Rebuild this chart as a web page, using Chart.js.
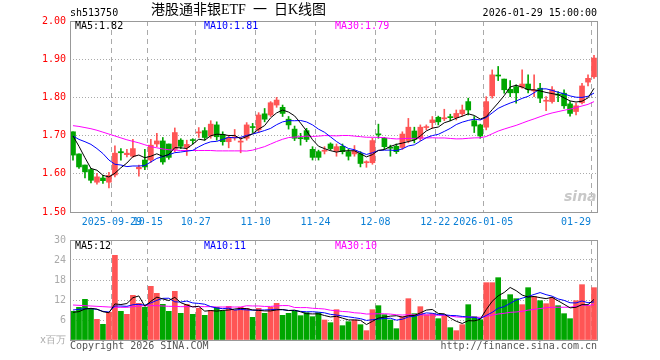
<!DOCTYPE html>
<html><head><meta charset="utf-8">
<script src="https://cdn.jsdelivr.net/npm/chart.js@4.4.1/dist/chart.umd.min.js"></script>
<style>
html,body{margin:0;padding:0;background:#fff;}
#wrap{position:relative;width:660px;height:360px;overflow:hidden;font-family:"DejaVu Sans Mono",monospace;}
canvas{position:absolute;left:0;}
.t{position:absolute;white-space:nowrap;font-size:10px;line-height:10px;}
</style></head><body>
<div id="wrap">
<canvas id="k" width="660" height="230" style="top:0"></canvas>
<canvas id="v" width="660" height="130" style="top:230px"></canvas>
<div class="t" style="left:70px;top:8px;color:#000">sh513750</div>
<div class="t" style="left:151px;top:3px;font-size:14px;line-height:14px;font-family:'Liberation Serif','Noto Sans CJK SC',serif;color:#000">港股通非银ETF&nbsp;&nbsp;一&nbsp;&nbsp;日K线图</div>
<div class="t" style="right:63px;top:8px;color:#000">2026-01-29 15:00:00</div>
<div class="t" style="left:75px;top:21px;color:#000">MA5:1.82</div>
<div class="t" style="left:204px;top:21px;color:#0000ff">MA10:1.81</div>
<div class="t" style="left:335px;top:21px;color:#ff00ff">MA30:1.79</div>
<div class="t" style="left:75px;top:241px;color:#000">MA5:12</div>
<div class="t" style="left:204px;top:241px;color:#0000ff">MA10:11</div>
<div class="t" style="left:335px;top:241px;color:#ff00ff">MA30:10</div>
<div class="t" style="left:70px;top:341px;color:#555">Copyright 2026 SINA.COM</div>
<div class="t" style="right:63px;top:341px;color:#555">http://finance.sina.com.cn</div>
<div class="t" style="left:564px;top:189px;font-size:14px;line-height:14px;font-style:italic;font-weight:bold;font-family:'DejaVu Sans',sans-serif;color:#c8c8c8">sina</div>
</div>
<script>
// ---- data ----
const dates = [
"2025-09-18","2025-09-19","2025-09-22","2025-09-23","2025-09-24","2025-09-25","2025-09-26","2025-09-29","2025-09-30",
"2025-10-09","2025-10-10","2025-10-13","2025-10-14","2025-10-15","2025-10-16","2025-10-17",
"2025-10-20","2025-10-21","2025-10-22","2025-10-23","2025-10-24",
"2025-10-27","2025-10-28","2025-10-29","2025-10-30","2025-10-31",
"2025-11-03","2025-11-04","2025-11-05","2025-11-06","2025-11-07",
"2025-11-10","2025-11-11","2025-11-12","2025-11-13","2025-11-14",
"2025-11-17","2025-11-18","2025-11-19","2025-11-20","2025-11-21",
"2025-11-24","2025-11-25","2025-11-26","2025-11-27","2025-11-28",
"2025-12-01","2025-12-02","2025-12-03","2025-12-04","2025-12-05",
"2025-12-08","2025-12-09","2025-12-10","2025-12-11","2025-12-12",
"2025-12-15","2025-12-16","2025-12-17","2025-12-18","2025-12-19",
"2025-12-22","2025-12-23","2025-12-24","2025-12-25","2025-12-26",
"2025-12-29","2025-12-30","2025-12-31",
"2026-01-05","2026-01-06","2026-01-07","2026-01-08","2026-01-09",
"2026-01-12","2026-01-13","2026-01-14","2026-01-15","2026-01-16",
"2026-01-19","2026-01-20","2026-01-21","2026-01-22","2026-01-23",
"2026-01-26","2026-01-27","2026-01-28","2026-01-29"];

const open = [1.710,1.652,1.623,1.611,1.578,1.589,1.578,1.597,1.658,1.650,1.646,1.613,1.636,1.636,1.678,1.686,1.678,1.664,1.688,1.669,1.689,1.707,
1.713,1.699,1.728,1.703,1.684,1.694,1.683,1.693,1.723,1.715,1.757,1.754,1.780,1.774,1.743,1.717,1.694,1.713,1.664,1.658,1.659,1.678,
1.659,1.672,1.658,1.652,1.653,1.629,1.629,1.704,1.693,1.669,1.672,1.669,1.687,1.712,1.693,1.721,1.734,1.748,1.744,1.749,1.747,1.757,
1.789,1.739,1.728,1.722,1.804,1.858,1.848,1.821,1.828,1.827,1.835,1.817,1.824,1.790,1.789,1.808,1.811,1.783,1.763,1.786,1.840,1.854];
const high = [1.710,1.652,1.623,1.614,1.601,1.596,1.604,1.673,1.666,1.664,1.690,1.623,1.664,1.690,1.706,1.695,1.678,1.720,1.692,1.688,1.692,1.721,
1.721,1.739,1.736,1.710,1.701,1.716,1.695,1.734,1.732,1.760,1.771,1.789,1.800,1.780,1.750,1.725,1.706,1.719,1.671,1.662,1.671,1.681,
1.678,1.678,1.664,1.674,1.658,1.634,1.693,1.730,1.695,1.675,1.678,1.710,1.745,1.722,1.728,1.728,1.750,1.751,1.769,1.756,1.767,1.780,
1.798,1.750,1.730,1.802,1.872,1.881,1.848,1.844,1.833,1.872,1.859,1.859,1.837,1.802,1.828,1.815,1.820,1.789,1.785,1.837,1.859,1.910];
const low = [1.636,1.614,1.589,1.576,1.573,1.575,1.563,1.592,1.636,1.644,1.643,1.594,1.611,1.630,1.671,1.625,1.638,1.658,1.666,1.648,1.678,1.695,
1.688,1.693,1.688,1.675,1.668,1.688,1.655,1.688,1.708,1.708,1.736,1.750,1.774,1.750,1.717,1.687,1.675,1.684,1.636,1.636,1.652,1.662,
1.646,1.652,1.636,1.646,1.618,1.617,1.625,1.693,1.664,1.646,1.653,1.664,1.681,1.681,1.687,1.715,1.719,1.728,1.739,1.739,1.741,1.751,
1.754,1.708,1.693,1.715,1.798,1.844,1.811,1.802,1.785,1.824,1.812,1.802,1.786,1.765,1.785,1.789,1.771,1.751,1.754,1.783,1.830,1.850];
const close = [1.649,1.618,1.605,1.583,1.592,1.582,1.596,1.654,1.655,1.654,1.666,1.617,1.618,1.675,1.686,1.631,1.643,1.708,1.672,1.677,1.687,1.709,
1.695,1.730,1.697,1.684,1.695,1.696,1.685,1.728,1.721,1.754,1.743,1.786,1.793,1.758,1.728,1.693,1.692,1.690,1.643,1.643,1.661,1.666,
1.671,1.658,1.646,1.660,1.627,1.631,1.687,1.702,1.671,1.667,1.658,1.704,1.722,1.690,1.722,1.723,1.741,1.736,1.746,1.747,1.758,1.767,
1.767,1.725,1.699,1.789,1.859,1.856,1.820,1.812,1.812,1.835,1.821,1.819,1.798,1.792,1.820,1.806,1.778,1.758,1.778,1.830,1.850,1.903];
// volume, millions
const volume = [8.6,9.8,12.2,9.5,6.2,4.7,8.3,25.4,8.6,7.7,13.4,11.0,9.8,16.1,14.0,10.7,8.6,14.6,8.0,10.7,7.7,9.5,
7.4,8.9,9.8,8.8,10.1,8.9,9.8,9.5,6.8,9.5,8.0,9.8,11.0,7.4,8.0,8.6,7.3,8.2,7.0,8.2,6.0,5.2,
9.1,4.3,5.5,6.0,4.6,2.8,9.1,10.3,7.6,6.0,3.4,7.0,12.4,7.9,10.0,7.6,7.9,6.4,7.3,3.7,2.8,4.6,
10.6,7.0,6.1,17.2,17.2,18.7,12.1,13.6,12.4,10.6,15.7,13.0,11.8,10.9,12.7,10.3,7.9,6.4,11.8,16.6,10.3,15.7];
// moving-average values for the first days (window reaches before the chart)
const ma5Lead = [1.699,1.672,1.642,1.614];
const ma10Lead = [1.699,1.690,1.684,1.677,1.666,1.653,1.636,1.625,1.623];
const ma30Lead = [1.726,1.724,1.721,1.718,1.714,1.709,1.704,1.699,1.694,1.689,1.685,1.681,1.676,1.671,1.668,1.665,1.663,1.662,1.661,1.661,1.661,1.661,1.661,1.661,1.660,1.660,1.660,1.660,1.660];
const vma5Lead = [8.3,8.5,9.3,9.5];
const vma10Lead = [9.0,9.2,9.4,9.4,9.2,8.6,8.4,10.2,10.2];
const vma30Lead = [10.5,10.4,10.3,10.2,10.1,10.0,9.9,9.8,9.8,9.8,10.0,10.2,10.3,10.3,10.3,10.2,10.1,10.1,10.0,10.0,10.0,10.0,10.0,10.0,9.9,9.9,9.9,9.9,9.9];
// x-axis tick labels
const tickDates = ["2025-09-29","2025-10-15","2025-10-27","2025-11-10","2025-11-24","2025-12-08","2025-12-22","2026-01-05","2026-01-29"];
const tickTexts = ["2025-09-29","10-15","10-27","11-10","11-24","12-08","12-22","2026-01-05","01-29"];
const priceTicks = [1.50,1.60,1.70,1.80,1.90,2.00];
const volTicks = [0,6,12,18,24,30];

// ---- build ----
function movingAvg(src, n, lead){
  return src.map((_, i) => i < n - 1 ? lead[i] : src.slice(i - n + 1, i + 1).reduce((a, b) => a + b, 0) / n);
}
const RED = '#ff5555', GREEN = '#00a600';
const colors = dates.map((d, i) => close[i] >= open[i] ? RED : GREEN);
const tickIdx = new Map(tickDates.map((d, k) => [dates.indexOf(d), tickTexts[k]]));
const MONO = 'DejaVu Sans Mono';

const frame = {
  id: 'frame',
  afterDraw(chart){
    const a = chart.chartArea, c = chart.ctx;
    c.save(); c.strokeStyle = '#999'; c.lineWidth = 1;
    c.strokeRect(Math.round(a.left) + 0.5, Math.round(a.top) + 0.5, Math.round(a.right - a.left), Math.round(a.bottom - a.top));
    c.restore();
  }
};
function lineDs(data, color){
  return {type:'line', data, borderColor:color, borderWidth:1, pointRadius:0, tension:0, order:0};
}
function xScale(showLabels){
  return {
    type:'category', offset:true,
    grid:{offset:true, drawTicks:false, lineWidth:1, color:c => tickIdx.has(c.index) ? '#aaa' : 'rgba(0,0,0,0)'},
    border:{display:false, dash:[5,4]},
    ticks:{display:showLabels, autoSkip:false, maxRotation:0, minRotation:0, padding:4, labelOffset:-3,
      color:'#0a7fd6', font:{family:MONO, size:10},
      callback:(v, i) => {
        if (!tickIdx.has(i)) return '';
        const s = tickIdx.get(i);
        return i === dates.length - 1 ? s + '     ' : s;
      }},
    afterFit:s => { s.height = showLabels ? 18 : 0; }
  };
}
function yGridColor(lo, hi){
  return c => (c.tick && (Math.abs(c.tick.value - lo) < 1e-6 || Math.abs(c.tick.value - hi) < 1e-6)) ? 'rgba(0,0,0,0)' : '#aaa';
}

new Chart(document.getElementById('k'), {
  type:'bar',
  data:{
    labels:dates,
    datasets:[
      lineDs(movingAvg(close, 5, ma5Lead), '#000000'),
      lineDs(movingAvg(close, 10, ma10Lead), '#0000ff'),
      lineDs(movingAvg(close, 30, ma30Lead), '#ff00ff'),
      {type:'bar', data:dates.map((d, i) => [low[i], high[i]]), backgroundColor:colors, barThickness:1, grouped:false, order:2, borderWidth:0},
      {type:'bar', data:dates.map((d, i) => [open[i], close[i]]), backgroundColor:colors, barThickness:5, minBarLength:1, grouped:false, order:1, borderWidth:0}
    ]
  },
  options:{
    responsive:false, animation:false, devicePixelRatio:1,
    layout:{padding:{left:0, right:63, top:21, bottom:0}},
    plugins:{legend:{display:false}, tooltip:{enabled:false}},
    scales:{
      x:xScale(true),
      y:{min:priceTicks[0], max:priceTicks[priceTicks.length - 1],
        afterBuildTicks:s => { s.ticks = priceTicks.map(v => ({value:v})); },
        ticks:{padding:4, color:'#ff0000', font:{family:MONO, size:10}, callback:v => Number(v).toFixed(2)},
        grid:{drawTicks:false, lineWidth:1, color:yGridColor(1.5, 2.0)},
        border:{display:false, dash:[1,2]},
        afterFit:s => { s.width = 70; }}
    }
  },
  plugins:[frame]
});

new Chart(document.getElementById('v'), {
  type:'bar',
  data:{
    labels:dates,
    datasets:[
      lineDs(movingAvg(volume, 5, vma5Lead), '#000000'),
      lineDs(movingAvg(volume, 10, vma10Lead), '#0000ff'),
      lineDs(movingAvg(volume, 30, vma30Lead), '#ff00ff'),
      {type:'bar', data:volume, backgroundColor:colors, barThickness:5, grouped:false, order:1, borderWidth:0}
    ]
  },
  options:{
    responsive:false, animation:false, devicePixelRatio:1,
    layout:{padding:{left:0, right:63, top:10, bottom:20}},
    plugins:{legend:{display:false}, tooltip:{enabled:false}},
    scales:{
      x:xScale(false),
      y:{min:0, max:30,
        afterBuildTicks:s => { s.ticks = volTicks.map(v => ({value:v})); },
        ticks:{padding:4, color:'#aaaaaa', font:{family:MONO, size:10}, callback:v => v === 0 ? 'x百万' : String(v)},
        grid:{drawTicks:false, lineWidth:1, color:yGridColor(0, 30)},
        border:{display:false, dash:[1,2]},
        afterFit:s => { s.width = 70; }}
    }
  },
  plugins:[frame]
});
</script>
</body></html>
